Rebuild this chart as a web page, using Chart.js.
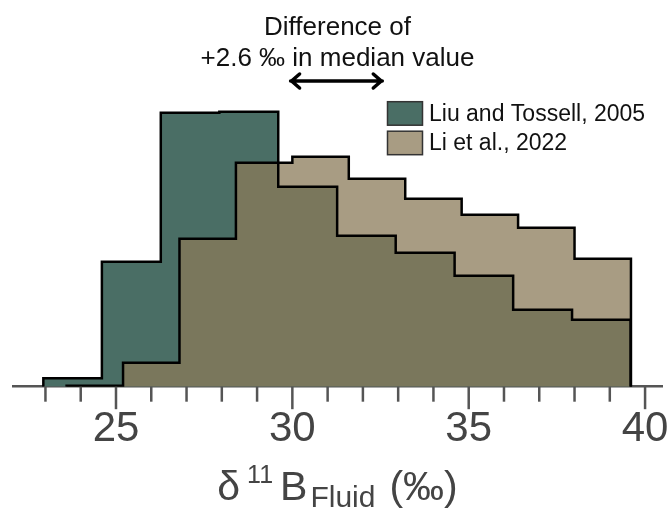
<!DOCTYPE html>
<html>
<head>
<meta charset="utf-8">
<script src="https://cdn.jsdelivr.net/npm/chart.js@4.4.1/dist/chart.umd.min.js"></script>
<style>
  html, body { margin: 0; padding: 0; background: #fff; }
  #wrap { width: 667px; height: 508px; }
</style>
</head>
<body>
<div id="wrap"><canvas id="histChart" width="667" height="508"></canvas></div>
<script>
// bin edges (per mil) and bin heights for the two compilations
var liuEdges = [22.94, 24.6, 26.27, 27.93, 29.6, 31.27, 32.93, 34.6, 36.26, 37.93, 39.59];
var liuCounts = [0.84, 12.5, 27.4, 27.5, 20.0, 15.1, 13.4, 11.1, 7.7, 6.7];
var liEdges = [23.6, 25.2, 26.8, 28.4, 30.0, 31.6, 33.2, 34.8, 36.4, 38.0, 39.6];
var liCounts = [0.1, 2.4, 14.8, 22.4, 23.0, 20.8, 18.8, 17.2, 15.9, 12.8];
var seriesNames = ['Liu and Tossell, 2005', 'Li et al., 2022'];
var majorTicks = [25, 30, 35, 40];
var medianShift = [29.95, 32.55]; // +2.6 per mil between medians

var FONT = 'Liberation Sans, Arial, Helvetica, sans-serif';

// outline of a histogram as stepped points, closed down to zero at both ends
function stepPoints(edges, counts) {
    var pts = [{x: edges[0], y: 0}];
    counts.forEach(function(c, i) {
        pts.push({x: edges[i], y: c});
    });
    pts.push({x: edges[edges.length - 1], y: 0});
    return pts;
}

// minor / major tick marks under the axis line
var tickMarks = {
    id: 'tickMarks',
    afterDraw: function(chart) {
        var ctx = chart.ctx;
        var xs = chart.scales.x;
        var y0 = chart.chartArea.bottom;
        ctx.save();
        ctx.strokeStyle = '#555';
        ctx.lineWidth = 2.5;
        xs.ticks.forEach(function(t) {
            var px = xs.getPixelForValue(t.value);
            var len = majorTicks.indexOf(t.value) >= 0 ? 22.5 : 15;
            ctx.beginPath();
            ctx.moveTo(px, y0);
            ctx.lineTo(px, y0 + len);
            ctx.stroke();
        });
        ctx.restore();
    }
};

// axis title with super- and subscript, plus the median note and arrow
var annotations = {
    id: 'annotations',
    afterDraw: function(chart) {
        var ctx = chart.ctx;
        var area = chart.chartArea;
        var cx = (area.left + area.right) / 2;
        ctx.save();

        var parts = [
            {t: '\u03B4', size: 41, dy: 0, gap: 7},
            {t: '11', size: 25, dy: -17, gap: 7},
            {t: 'B', size: 41, dy: 0, gap: 3},
            {t: 'Fluid', size: 30, dy: 7, gap: 14},
            {t: '(\u2030)', size: 41, dy: 0, gap: 0}
        ];
        var total = 0;
        parts.forEach(function(p) {
            ctx.font = p.size + 'px ' + FONT;
            p.w = ctx.measureText(p.t).width;
            total += p.w + p.gap;
        });
        var x = cx - total / 2;
        ctx.fillStyle = '#444';
        ctx.textBaseline = 'alphabetic';
        ctx.textAlign = 'left';
        parts.forEach(function(p) {
            ctx.font = p.size + 'px ' + FONT;
            ctx.fillText(p.t, x, 500 + p.dy);
            x += p.w + p.gap;
        });

        ctx.fillStyle = '#111';
        ctx.textAlign = 'center';
        ctx.font = '26px ' + FONT;
        ctx.fillText('Difference of', cx, 35);
        ctx.fillText('+2.6 \u2030 in median value', cx, 66);

        var xs = chart.scales.x;
        var a = xs.getPixelForValue(medianShift[0]);
        var b = xs.getPixelForValue(medianShift[1]);
        var ay = 81;
        ctx.strokeStyle = '#000';
        ctx.lineWidth = 3.5;
        ctx.lineCap = 'round';
        ctx.lineJoin = 'miter';
        ctx.beginPath();
        ctx.moveTo(a, ay);
        ctx.lineTo(b, ay);
        ctx.moveTo(a + 9, ay - 7);
        ctx.lineTo(a + 1, ay);
        ctx.lineTo(a + 9, ay + 7);
        ctx.moveTo(b - 9, ay - 7);
        ctx.lineTo(b - 1, ay);
        ctx.lineTo(b - 9, ay + 7);
        ctx.stroke();
        ctx.restore();
    }
};

// legend boxes in the upper right of the plot
var boxLegend = {
    id: 'boxLegend',
    afterDraw: function(chart) {
        var ctx = chart.ctx;
        var rows = [101.7, 131.2];
        ctx.save();
        chart.data.datasets.forEach(function(ds, i) {
            var top = rows[i];
            ctx.fillStyle = '#fff';
            ctx.fillRect(387.5, top, 35, 23.5);
            ctx.fillStyle = ds.backgroundColor;
            ctx.fillRect(387.5, top, 35, 23.5);
            ctx.strokeStyle = '#333';
            ctx.lineWidth = 1.5;
            ctx.strokeRect(387.5, top, 35, 23.5);
            ctx.fillStyle = '#111';
            ctx.font = '23px ' + FONT;
            ctx.textBaseline = 'middle';
            ctx.textAlign = 'left';
            ctx.fillText(ds.label, 429, top + 12.5);
        });
        ctx.restore();
    }
};

var context = document.getElementById('histChart').getContext('2d');
var histChart = new Chart(context, {
    type: 'line',
    data: {
        datasets: [{
            label: seriesNames[0],
            data: stepPoints(liuEdges, liuCounts),
            stepped: 'before',
            fill: 'origin',
            backgroundColor: 'rgb(74,110,101)',
            borderColor: '#000',
            borderWidth: 2.5,
            borderJoinStyle: 'miter',
            pointRadius: 0,
            order: 1
        }, {
            label: seriesNames[1],
            data: stepPoints(liEdges, liCounts),
            stepped: 'before',
            fill: 'origin',
            backgroundColor: 'rgba(139,123,89,0.75)',
            borderColor: '#000',
            borderWidth: 2.5,
            borderJoinStyle: 'miter',
            pointRadius: 0,
            order: 0
        }]
    },
    options: {
        responsive: false,
        animation: false,
        layout: {
            padding: {top: 86.7, left: 13, right: 5, bottom: 0}
        },
        plugins: {
            legend: {display: false},
            tooltip: {enabled: false},
            filler: {drawTime: 'beforeDatasetsDraw'}
        },
        scales: {
            x: {
                type: 'linear',
                min: 22.08,
                max: 40.48,
                grid: {display: false, drawTicks: false},
                border: {display: true, color: '#555', width: 2.5},
                ticks: {
                    stepSize: 1,
                    includeBounds: false,
                    autoSkip: false,
                    maxRotation: 0,
                    padding: 18,
                    color: '#444',
                    font: {family: FONT, size: 42},
                    callback: function(v) {
                        return majorTicks.indexOf(v) >= 0 ? String(v) : '';
                    }
                },
                afterFit: function(scale) {
                    scale.height = 121.3;
                    scale.paddingLeft = 0;
                    scale.paddingRight = 0;
                }
            },
            y: {
                display: false,
                min: 0,
                max: 30
            }
        }
    },
    plugins: [tickMarks, annotations, boxLegend]
});
</script>
</body>
</html>
